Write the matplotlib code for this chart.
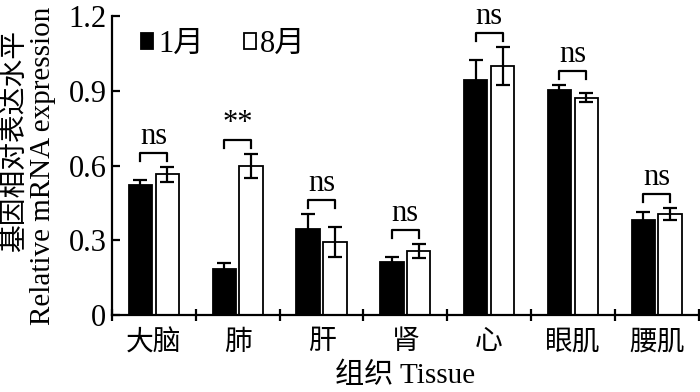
import numpy as np
import matplotlib
matplotlib.use("Agg")
import matplotlib.pyplot as plt

plt.rcParams['font.family'] = ['Liberation Serif', 'Noto Sans CJK SC']

# data
tissues = ['大脑', '肺', '肝', '肾', '心', '眼肌', '腰肌']
jan = [0.52, 0.185, 0.345, 0.213, 0.944, 0.904, 0.38]
jan_err = [0.022, 0.025, 0.06, 0.02, 0.08, 0.02, 0.033]
aug = [0.565, 0.598, 0.293, 0.257, 1.0, 0.872, 0.405]
aug_err = [0.03, 0.048, 0.06, 0.028, 0.076, 0.018, 0.025]
signif = ['ns', '**', 'ns', 'ns', 'ns', 'ns', 'ns']

fig = plt.figure(figsize=(7, 3.92), dpi=100)
ax = fig.add_axes([0.16, 0.1964, 0.838, 0.7626])

x = np.arange(len(tissues))
w = 0.28
off = 0.16
ekw = dict(ecolor='black', elinewidth=1.6, capsize=5, capthick=1.6)
ax.bar(x - off, jan, w, yerr=jan_err, color='black', edgecolor='black',
       linewidth=1.3, label='1月', error_kw=ekw)
ax.bar(x + off, aug, w, yerr=aug_err, color='white', edgecolor='black',
       linewidth=1.3, label='8月', error_kw=ekw)

# significance brackets
for i in range(len(tissues)):
    top = max(jan[i] + jan_err[i], aug[i] + aug_err[i]) + 0.055
    ax.plot([i - off, i - off, i + off, i + off],
            [top - 0.03, top, top, top - 0.03], color='black', lw=1.6)
    ax.text(i, top + 0.008, signif[i], ha='center', va='bottom', fontsize=22)

ax.set_xlim(-0.5, 6.5)
ax.set_ylim(0, 1.2)
ax.set_yticks([0, 0.3, 0.6, 0.9, 1.2])
ax.set_yticklabels(['0', '0.3', '0.6', '0.9', '1.2'])
ax.set_xticks(x)
ax.set_xticklabels(tissues)
ax.set_xticks(np.arange(-0.5, 7, 1), minor=True)
ax.tick_params(axis='x', which='major', length=0, pad=11, labelsize=20)
ax.tick_params(axis='x', which='minor', direction='inout', length=9, width=1.6)
ax.tick_params(axis='y', direction='in', length=6, width=1.6, labelsize=22, pad=4)
for s in ['top', 'right']:
    ax.spines[s].set_visible(False)
for s in ['left', 'bottom']:
    ax.spines[s].set_linewidth(1.6)

ax.legend(loc='upper left', bbox_to_anchor=(0.003, 1.045), ncol=2, frameon=False,
          fontsize=22, handlelength=0.4, handleheight=0.4, handletextpad=0.15,
          columnspacing=1.3)

fig.text(0.5 * (0.16 + 0.998), 0.042, '组织 Tissue', ha='center', va='center', fontsize=21)
fig.text(0.022, 0.64, '基因相对表达水平', rotation=90, ha='center', va='center', fontsize=20)
fig.text(0.062, 0.578, 'Relative mRNA expression', rotation=90, ha='center', va='center', fontsize=21)

fig.savefig('out.png', dpi=100)
